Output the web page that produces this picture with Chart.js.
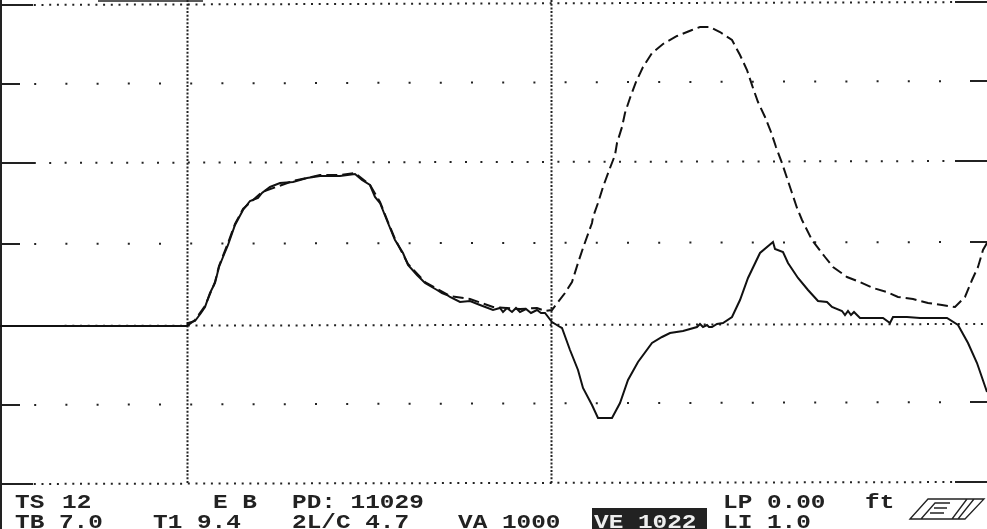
<!DOCTYPE html>
<html>
<head>
<meta charset="utf-8">
<title>Trace</title>
<script src="https://cdn.jsdelivr.net/npm/chart.js@4"></script>
<style>
    html, body { margin: 0; padding: 0; background: #fff; overflow: hidden; }
    canvas { display: block; }
</style>
</head>
<body>
<canvas id="traceChart" width="987" height="529"></canvas>
<script>
// Solid trace: sample index and amplitude counts
const solidSamples = [0, 187, 188, 195, 201, 205, 210, 215, 219, 223, 228, 235, 243, 250, 258, 262, 270, 280, 293, 307, 320, 340, 355, 362, 370, 375, 380, 388, 395, 403, 408, 417, 425, 437, 442, 447, 450, 460, 470, 480, 493, 500, 503, 507, 512, 516, 520, 526, 531, 537, 541, 545, 552, 560, 562, 570, 578, 583, 592, 598, 612, 620, 628, 638, 652, 662, 670, 683, 697, 700, 703, 707, 709, 712, 717, 723, 732, 740, 748, 760, 773, 775, 783, 788, 798, 808, 818, 827, 832, 842, 845, 848, 851, 854, 857, 860, 883, 890, 893, 898, 907, 920, 947, 958, 968, 977, 987];
const solidValues = [0, 0, 3, 5, 13, 19, 33, 43, 59, 69, 81, 101, 116, 125, 128, 133, 139, 143, 144, 148, 150, 150, 152, 146, 141, 129, 123, 103, 86, 73, 61, 51, 43, 36, 33, 31, 29, 24, 25, 21, 16, 18, 14, 18, 14, 18, 14, 17, 13, 16, 13, 13, 4, -1, -2, -24, -44, -62, -79, -92, -92, -77, -54, -36, -17, -11, -7, -5, -1, 2, -1, 1, -1, -1, 2, 3, 9, 26, 48, 73, 84, 77, 74, 63, 48, 36, 25, 24, 19, 15, 11, 15, 11, 14, 11, 8, 8, 3, 9, 9, 9, 8, 8, 1, -17, -37, -66];

// Dashed trace: runs along the solid one up to the split near sample 552
const dashedSamples = [187, 195, 205, 215, 219, 228, 235, 243, 262, 293, 320, 340, 355, 370, 380, 388, 395, 408, 425, 450, 470, 493, 520, 537, 545, 552, 565, 572, 578, 583, 592, 593, 598, 603, 610, 615, 617, 622, 625, 630, 636, 643, 652, 663, 677, 692, 700, 710, 720, 732, 740, 747, 753, 758, 765, 771, 776, 782, 787, 792, 797, 802, 812, 825, 833, 847, 860, 873, 887, 898, 913, 928, 942, 955, 965, 972, 978, 983, 987];
const dashedValues = [0, 6, 20, 44, 60, 83, 102, 117, 134, 145, 151, 151, 153, 141, 124, 104, 87, 62, 44, 30, 27, 19, 17, 18, 15, 16, 33, 44, 63, 78, 103, 109, 123, 139, 158, 171, 183, 199, 213, 228, 244, 259, 273, 282, 290, 296, 299, 299, 294, 286, 271, 256, 238, 224, 209, 194, 179, 163, 148, 133, 118, 106, 86, 69, 59, 49, 44, 38, 34, 29, 27, 23, 21, 19, 29, 46, 59, 76, 83];

// Horizontal graticule, left and right end levels (the screen is slightly tilted)
const gridLeft = [321, 242, 163, 82, 0, -79, -158];
const gridRight = [324, 245, 165, 84, 2, -76, -156];
const gridDash = [[2, 5.7], [2, 29.2], [2, 13.4], [2, 29.2], [2, 5.7], [2, 29.2], [2, 5.7]];
const tickLeft = [33, 20, 35, 20, 0, 20, 33];
const tickRight = [32, 17, 32, 17, 0, 17, 32];
const markerSamples = [187.5, 551.5];

const statusLabels = ['TS', '12', 'E B', 'PD: 11029', 'LP 0.00', 'ft', 'TB 7.0', 'T1 9.4', '2L/C 4.7', 'VA 1000', 'LI 1.0'];
const statusX = [15, 62, 213, 292, 723, 865, 15, 153, 292, 458, 723];
const statusRow = [0, 0, 0, 0, 0, 0, 1, 1, 1, 1, 1];
const activeLabel = 'VE 1022';

const xMin = 0, xMax = 987, yMin = -203, yMax = 326;

function toPoints(xs, ys) {
    return xs.map((x, i) => ({ x: x, y: ys[i] }));
}

function guide(points, width, dash) {
    return {
        data: points,
        borderColor: '#222',
        borderWidth: width,
        borderDash: dash || [],
        pointRadius: 0,
        tension: 0,
        order: 5
    };
}

const datasets = [
    { data: toPoints(solidSamples, solidValues), borderColor: '#111', borderWidth: 2, pointRadius: 0, tension: 0, order: 1 },
    { data: toPoints(dashedSamples, dashedValues), borderColor: '#111', borderWidth: 2, borderDash: [11, 5], pointRadius: 0, tension: 0, order: 2 }
];

// Graticule dots and the solid tick stubs on both edges
gridLeft.forEach((level, i) => {
    datasets.push(guide([{ x: 3, y: level }, { x: xMax, y: gridRight[i] }], 2, gridDash[i]));
    if (tickLeft[i]) {
        datasets.push(guide([{ x: 0, y: level }, { x: tickLeft[i], y: level }], 2));
        datasets.push(guide([{ x: xMax - tickRight[i], y: gridRight[i] }, { x: xMax, y: gridRight[i] }], 2));
    }
});

markerSamples.forEach(sample => {
    datasets.push(guide([{ x: sample, y: yMax }, { x: sample, y: -158 }], 2, [2, 1.7]));
});

datasets.push(guide([{ x: 1, y: yMax }, { x: 1, y: yMin }], 2));
datasets.push(guide([{ x: 98, y: 325 }, { x: 203, y: 325 }], 1.5));

// Status lines under the screen and the small logo
const statusPlugin = {
    id: 'statusLines',
    afterDraw(chart) {
        const ctx = chart.ctx;
        const rows = [508, 528];
        const writeLabel = (text, x, y, color) => {
            ctx.save();
            ctx.translate(x, y);
            ctx.scale(1.22, 1);
            ctx.font = 'bold 20px "Liberation Mono"';
            ctx.fillStyle = color;
            ctx.textBaseline = 'alphabetic';
            ctx.fillText(text, 0, 0);
            ctx.restore();
        };

        statusLabels.forEach((text, i) => writeLabel(text, statusX[i], rows[statusRow[i]], '#222'));

        ctx.fillStyle = '#222';
        ctx.fillRect(592, 508, 115, 21);
        writeLabel(activeLabel, 594, rows[1], '#eee');

        ctx.save();
        ctx.strokeStyle = '#222';
        ctx.lineWidth = 1.3;
        ctx.beginPath();
        ctx.moveTo(910, 519); ctx.lineTo(928, 499); ctx.lineTo(984, 499); ctx.lineTo(965, 519); ctx.closePath();
        ctx.moveTo(921, 519); ctx.lineTo(935, 503); ctx.lineTo(950, 503);
        ctx.moveTo(934, 508); ctx.lineTo(947, 508);
        ctx.moveTo(930, 513); ctx.lineTo(944, 513);
        ctx.moveTo(952, 519); ctx.lineTo(967, 499);
        ctx.moveTo(958, 519); ctx.lineTo(974, 499);
        ctx.stroke();
        ctx.restore();
    }
};

new Chart(document.getElementById('traceChart'), {
    type: 'line',
    data: { datasets: datasets },
    options: {
        responsive: false,
        animation: false,
        layout: { padding: 0 },
        scales: {
            x: { type: 'linear', display: false, min: xMin, max: xMax },
            y: { type: 'linear', display: false, min: yMin, max: yMax }
        },
        plugins: {
            legend: { display: false },
            title: { display: false },
            tooltip: { enabled: false }
        }
    },
    plugins: [statusPlugin]
});
</script>
</body>
</html>
